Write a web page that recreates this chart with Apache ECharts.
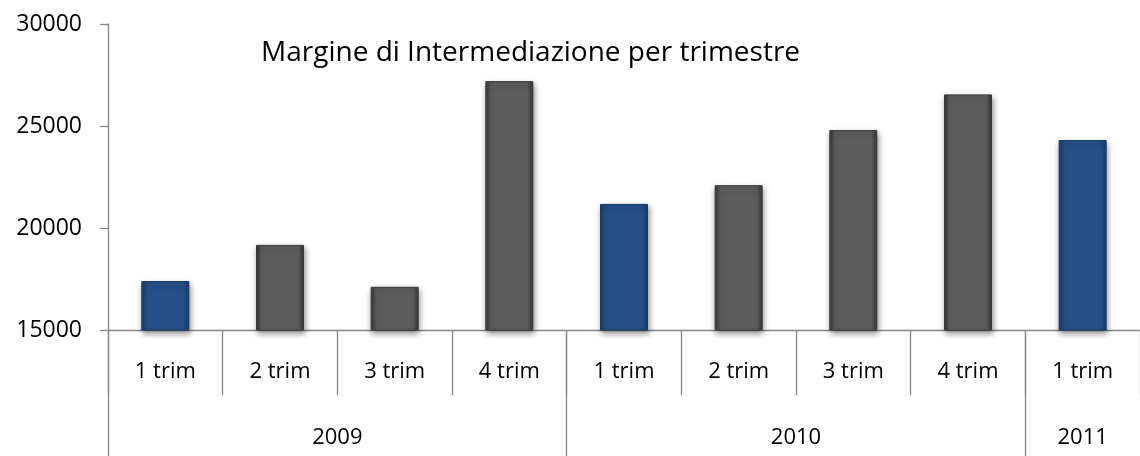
<!DOCTYPE html>
<html>
<head>
<meta charset="utf-8">
<script src="https://cdn.jsdelivr.net/npm/echarts@6/dist/echarts.min.js"></script>
<style>
html,body{margin:0;padding:0;background:#fff;}
#chart{width:1140px;height:456px;}
</style>
</head>
<body>
<div id="chart"></div>
<script>
const titleText = 'Margine di Intermediazione per trimestre';
const quarters = ['1 trim','2 trim','3 trim','4 trim','1 trim','2 trim','3 trim','4 trim','1 trim'];
const years = ['2009','2009','2009','2009','2010','2010','2010','2010','2011'];
const values = [17400, 19170, 17120, 27200, 21180, 22100, 24800, 26550, 24310];
const yTicks = [15000, 20000, 25000, 30000];

// year groups from the category list
const groups = [];
years.forEach((y, i) => {
  const g = groups[groups.length - 1];
  if (g && g.year === y) g.end = i + 1; else groups.push({year: y, start: i, end: i + 1});
});
const yearTickPos = groups.map(g => g.start);
const yearLabelPos = groups.map(g => (g.start + g.end) / 2);

function barColor(dark, mid) {
  return new echarts.graphic.LinearGradient(0, 0, 1, 0, [
    {offset: 0, color: dark},
    {offset: 0.12, color: mid},
    {offset: 0.88, color: mid},
    {offset: 1, color: dark}
  ]);
}
const blue = barColor('#1b3a66', '#25508a');
const gray = barColor('#333333', '#5d5d5d');

const FONT = 'Open Sans';
const axisGray = '#868686';

const chart = echarts.init(document.getElementById('chart'));
chart.setOption({
  animation: false,
  title: {
    text: titleText, left: 256, top: 34,
    textStyle: {fontFamily: FONT, fontSize: 28, fontWeight: 'normal', color: '#000'}
  },
  grid: {left: 108, top: 24, height: 306, width: 1044, containLabel: false},
  yAxis: {
    type: 'value', min: yTicks[0], max: yTicks[yTicks.length - 1], interval: 5000,
    axisLine: {show: true, lineStyle: {color: axisGray, width: 1.3}},
    axisTick: {show: true, length: 8, lineStyle: {color: axisGray, width: 1.3}},
    splitLine: {show: false},
    axisLabel: {margin: 26, fontFamily: FONT, fontSize: 23, color: '#000', formatter: v => String(v)}
  },
  xAxis: [
    {
      type: 'category', data: quarters, position: 'bottom',
      axisLine: {show: true, lineStyle: {color: axisGray, width: 1.3}},
      axisTick: {show: true, length: 65, lineStyle: {color: axisGray, width: 1.3}},
      axisLabel: {margin: 31, fontFamily: FONT, fontSize: 22, lineHeight: 22, color: '#000', interval: 0}
    },
    {
      type: 'value', min: 0, max: years.length, position: 'bottom',
      axisLine: {show: false},
      splitLine: {show: false},
      axisTick: {show: true, length: 126, customValues: yearTickPos, lineStyle: {color: axisGray, width: 1.3}},
      axisLabel: {
        margin: 97, fontFamily: FONT, fontSize: 22, lineHeight: 22, color: '#000',
        customValues: yearLabelPos,
        formatter: v => { const g = groups.find(g => Math.abs((g.start + g.end) / 2 - v) < 1e-6); return g ? g.year : ''; }
      }
    }
  ],
  series: [{
    type: 'bar', xAxisIndex: 0, barWidth: 48,
    data: values.map((v, i) => {
      const isFirst = quarters[i] === quarters[0];
      return {
        value: v,
        itemStyle: {color: isFirst ? blue : gray, borderColor: isFirst ? '#1a3960' : '#3a3a3a'}
      };
    }),
    itemStyle: {
      borderWidth: 1,
      shadowColor: 'rgba(0,0,0,0.45)', shadowBlur: 6, shadowOffsetX: 1, shadowOffsetY: 3
    }
  }]
});
</script>
</body>
</html>
